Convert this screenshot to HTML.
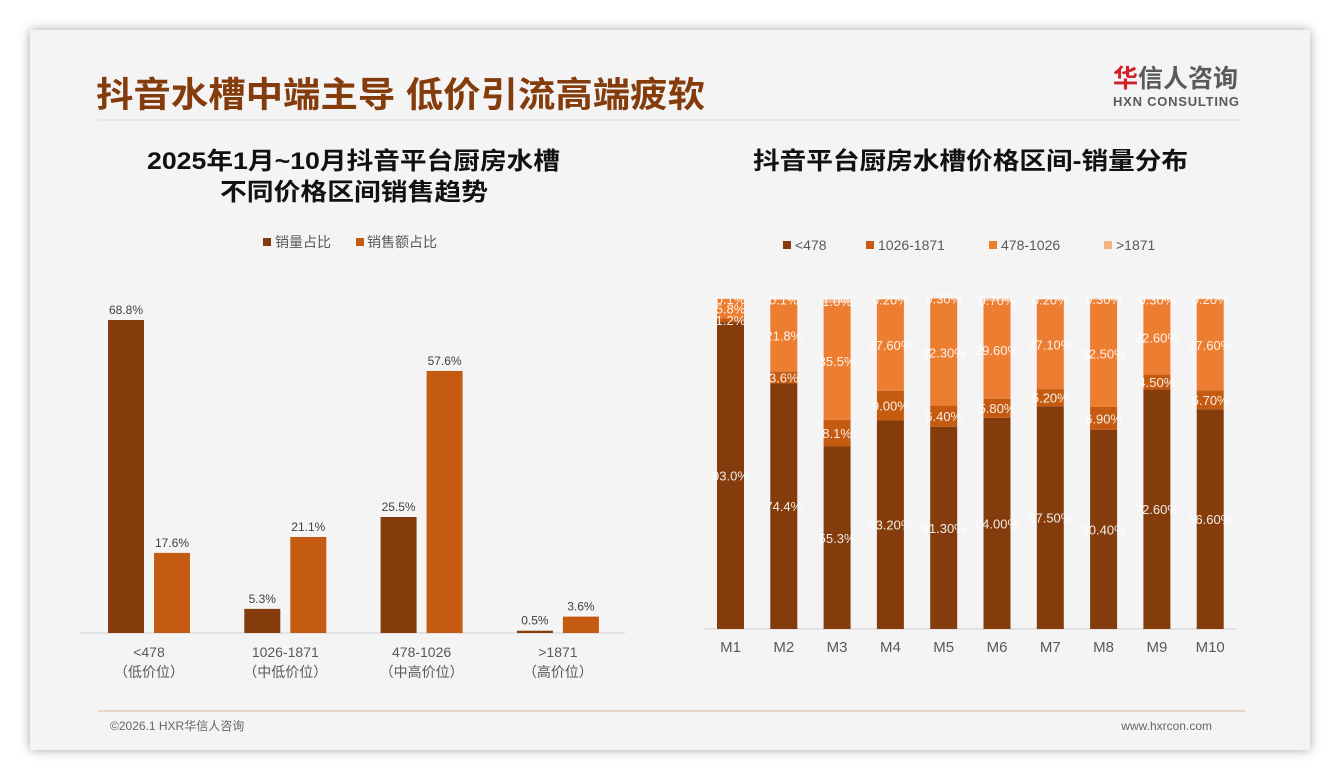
<!DOCTYPE html>
<html><head><meta charset="utf-8">
<style>
body{margin:0;width:1340px;height:780px;background:#fff;overflow:hidden;font-family:"Liberation Sans","Noto Sans CJK SC",sans-serif;}
#slide{position:absolute;left:30px;top:30px;width:1280px;height:720px;background:#f4f4f4;box-shadow:0 0 10px rgba(0,0,0,0.35);}
svg{position:absolute;left:0;top:0;}
</style></head><body>
<div id="slide"></div>
<svg id="chart" width="1340" height="780">
<text x="96" y="107" font-size="35" font-weight="bold" fill="#843c0c" textLength="609" lengthAdjust="spacingAndGlyphs">抖音水槽中端主导 低价引流高端疲软</text>
<line x1="98" y1="120" x2="1240" y2="120" stroke="#dcdcdc" stroke-width="1"/>
<text x="1113" y="87" font-size="25" font-weight="bold" fill="#5a5a5a"><tspan fill="#d0202a">华</tspan>信人咨询</text>
<text x="1113" y="106" font-size="13" font-weight="bold" fill="#5a5a5a" textLength="126">HXN CONSULTING</text>
<text x="147" y="169" font-size="24" font-weight="bold" fill="#111" textLength="413" lengthAdjust="spacingAndGlyphs">2025年1月~10月抖音平台厨房水槽</text>
<text x="220" y="200" font-size="24" font-weight="bold" fill="#111" textLength="268" lengthAdjust="spacingAndGlyphs">不同价格区间销售趋势</text>
<text x="753" y="169" font-size="24" font-weight="bold" fill="#111" textLength="435" lengthAdjust="spacingAndGlyphs">抖音平台厨房水槽价格区间-销量分布</text>
<line x1="98" y1="711" x2="1245" y2="711" stroke="#d9b7a0" stroke-width="1"/>
<text x="110" y="730" font-size="12" fill="#666">©2026.1 HXR华信人咨询</text>
<text x="1212" y="730" font-size="12" fill="#666" text-anchor="end">www.hxrcon.com</text>
<g id="left"></g><g id="right"></g>
</svg>
<script>
const leftCats=["<478","1026-1871","478-1026",">1871"];
const leftSub=["（低价位）","（中低价位）","（中高价位）","（高价位）"];
const volShare=[68.8,5.3,25.5,0.5];
const amtShare=[17.6,21.1,57.6,3.6];
const months=["M1","M2","M3","M4","M5","M6","M7","M8","M9","M10"];
const sLow=[93.0,74.4,55.3,63.2,61.3,64.0,67.5,60.4,72.6,66.6];
const sMidLow=[1.2,3.6,8.1,9.0,6.4,5.8,5.2,6.9,4.5,5.7];
const sMidHigh=[5.8,21.8,35.5,27.6,32.3,29.6,27.1,32.5,22.6,27.6];
const sHigh=[0.1,0.1,1.0,0.2,0.3,0.7,0.2,0.3,0.3,0.2];
const lowLbl=["93.0%","74.4%","55.3%","63.20%","61.30%","64.00%","67.50%","60.40%","72.60%","66.60%"];
const midLowLbl=["1.2%","3.6%","8.1%","9.00%","6.40%","5.80%","5.20%","6.90%","4.50%","5.70%"];
const midHighLbl=["5.8%","21.8%","35.5%","27.60%","32.30%","29.60%","27.10%","32.50%","22.60%","27.60%"];
const highLbl=["0.1%","0.1%","1.0%","0.20%","0.30%","0.70%","0.20%","0.30%","0.30%","0.20%"];
const NS="http://www.w3.org/2000/svg";
function mk(p,t,a,txt){const e=document.createElementNS(NS,t);for(const k in a)e.setAttribute(k,a[k]);if(txt!=null)e.textContent=txt;p.appendChild(e);return e;}
const L=document.getElementById('left');
const lBase=633,lScale=313/68.8;
const lx=i=>108+i*136.3;
const ly=v=>lBase-v*lScale;
let e;
e=mk(L,'line',{x1:80,y1:lBase,x2:625,y2:lBase,stroke:'#d0d0d0'});

e=mk(L,'rect',{x:263,y:238,width:8,height:8,fill:'#843c0c'});

e=mk(L,'text',{x:275,y:247,'font-size':14,fill:'#595959'},'销量占比');

e=mk(L,'rect',{x:356,y:238,width:8,height:8,fill:'#c55a11'});

e=mk(L,'text',{x:367,y:247,'font-size':14,fill:'#595959'},'销售额占比');

leftCats.forEach((c,i)=>{
 const x=lx(i);
 e=mk(L,'rect',{x:x,y:ly(volShare[i]),width:36,height:lBase-ly(volShare[i]),fill:'#843c0c'});
 
 e=mk(L,'text',{x:x+18,y:ly(volShare[i])-6,'font-size':12,fill:'#404040','text-anchor':'middle'},volShare[i].toFixed(1)+'%');
 
 e=mk(L,'rect',{x:x+46,y:ly(amtShare[i]),width:36,height:lBase-ly(amtShare[i]),fill:'#c55a11'});
 
 e=mk(L,'text',{x:x+64,y:ly(amtShare[i])-6,'font-size':12,fill:'#404040','text-anchor':'middle'},amtShare[i].toFixed(1)+'%');
 
 e=mk(L,'text',{x:x+41,y:657,'font-size':14,fill:'#595959','text-anchor':'middle'},c);
 
 e=mk(L,'text',{x:x+41,y:677,'font-size':14,fill:'#595959','text-anchor':'middle'},leftSub[i]);
 
});
const R=document.getElementById('right');
const rBase=629,rTop=299,rH=rBase-rTop;
const rx=i=>717+i*53.3;
const ry=v=>rBase-v/100*rH;
e=mk(R,'line',{x1:703,y1:rBase,x2:1237,y2:rBase,stroke:'#d0d0d0'});

const series=[[sLow,'#843c0c',lowLbl,'<478'],[sMidLow,'#c55a11',midLowLbl,'1026-1871'],[sMidHigh,'#ed7d31',midHighLbl,'478-1026'],[sHigh,'#f4b183',highLbl,'>1871']];
const legX=[783,866,989,1104];
series.forEach((s,k)=>{
 e=mk(R,'rect',{x:legX[k],y:241,width:8,height:8,fill:s[1]});
 
 e=mk(R,'text',{x:legX[k]+12,y:250,'font-size':14,fill:'#595959'},s[3]);
 
});
months.forEach((m,i)=>{
 let cum=0;const x=rx(i);
 series.forEach((s,k)=>{
  const v=s[0][i];
  const y1=ry(cum),y2=ry(cum+v);
  e=mk(R,'rect',{x:x,y:y2,width:27,height:y1-y2,fill:s[1]});
  
  cum+=v;
 });
 cum=0;
 series.forEach((s,k)=>{
  const v=s[0][i];
  const mid=(ry(cum)+ry(cum+v))/2;
  e=mk(R,'text',{x:x+13.5,y:mid+5,'font-size':13,fill:'#ffffff','text-anchor':'middle',opacity:0.9},s[2][i]);
  
  cum+=v;
 });
 e=mk(R,'text',{x:x+13.5,y:652,'font-size':15,fill:'#595959','text-anchor':'middle'},m);
 
});
</script>
</body></html>
